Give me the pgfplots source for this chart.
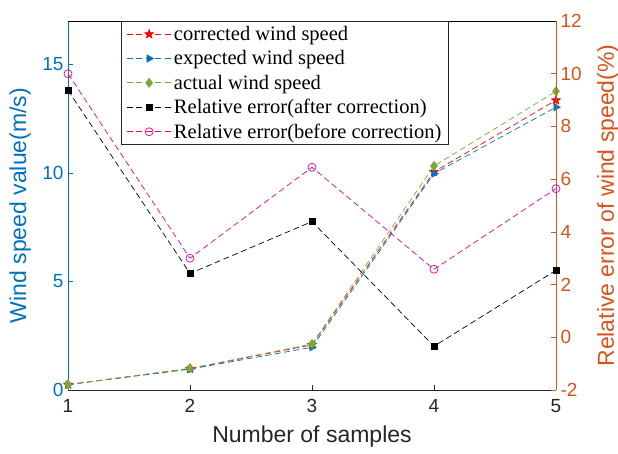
\documentclass[border=0pt]{standalone}
\usepackage{fontspec}
\setmainfont{Liberation Sans}
\newfontfamily\timesfont{Liberation Serif}
\usepackage{pgfplots}
\pgfplotsset{compat=1.18}
\definecolor{mblue}{rgb}{0,0.447,0.741}
\definecolor{morange}{rgb}{0.851,0.325,0.098}
\definecolor{mgreen}{rgb}{0.466,0.674,0.188}
\definecolor{mgray}{rgb}{0.15,0.15,0.15}
\pgfdeclareplotmark{fstar}{%
  \pgfpathmoveto{\pgfpointpolar{90}{\pgfplotmarksize}}%
  \pgfpathlineto{\pgfpointpolar{126}{0.42\pgfplotmarksize}}%
  \pgfpathlineto{\pgfpointpolar{162}{\pgfplotmarksize}}%
  \pgfpathlineto{\pgfpointpolar{198}{0.42\pgfplotmarksize}}%
  \pgfpathlineto{\pgfpointpolar{234}{\pgfplotmarksize}}%
  \pgfpathlineto{\pgfpointpolar{270}{0.42\pgfplotmarksize}}%
  \pgfpathlineto{\pgfpointpolar{306}{\pgfplotmarksize}}%
  \pgfpathlineto{\pgfpointpolar{342}{0.42\pgfplotmarksize}}%
  \pgfpathlineto{\pgfpointpolar{18}{\pgfplotmarksize}}%
  \pgfpathlineto{\pgfpointpolar{54}{0.42\pgfplotmarksize}}%
  \pgfpathclose
  \pgfusepathqfillstroke}
\begin{document}
\begin{tikzpicture}
\pgfplotsset{
  common/.style={width=488pt, height=369pt, scale only axis,
    xmin=1, xmax=5, clip=false, tick align=inside, major tick length=5pt,
    /pgf/number format/assume math mode=true,
    tick label style={font=\fontsize{19}{19}\selectfont},
    label style={font=\fontsize{23}{23}\selectfont}},
  dsh/.style={dash pattern=on 6pt off 3.5pt, line width=0.7pt}
}
\begin{axis}[common, name=ax,
  axis x line*=bottom, axis y line*=left,
  ymin=0, ymax=17, ytick={0,5,10,15}, xtick={1,2,3,4,5},
  x axis line style={mgray, line width=0.7pt}, xtick style={mgray, line width=0.7pt},
  xticklabel style={text=mgray, yshift=-6pt},
  y axis line style={mblue, line width=0.7pt}, ytick style={mblue, line width=0.7pt},
  yticklabel style={text=mblue, xshift=-1pt},
  xlabel={Number of samples}, xlabel style={text=mgray, at={(axis description cs:0.5,-0.127)}, anchor=center},
  ylabel={Wind speed value(m/s)}, ylabel style={text=mblue, at={(axis description cs:-0.098,0.5)}, anchor=center},
]
\addplot[red, dsh, mark=fstar, mark size=4.5pt, mark options={solid, fill=red}] coordinates {(1,0.25) (2,0.98) (3,2.08) (4,10.05) (5,13.35)};
\addplot[mblue, dsh, mark=triangle*, mark size=4.2pt, mark options={solid, rotate=-90, fill=mblue}] coordinates {(1,0.25) (2,0.96) (3,1.97) (4,9.97) (5,13.03)};
\addplot[mgreen, dsh, mark=diamond*, mark size=4.5pt, mark options={solid, fill=mgreen}] coordinates {(1,0.25) (2,1.0) (3,2.12) (4,10.32) (5,13.76)};
\end{axis}
\begin{axis}[common,
  axis x line=none, axis y line*=right,
  ymin=-2, ymax=12, ytick={-2,0,...,12},
  y axis line style={morange, line width=0.7pt}, ytick style={morange, line width=0.7pt},
  yticklabel style={text=morange, xshift=1pt},
  ylabel={Relative error of wind speed(\%)}, ylabel style={text=morange, at={(axis description cs:1.1066,0.5)}, anchor=center},
  legend style={at={(axis description cs:0.1086,1)}, anchor=north west, draw=mgray, line width=0.6pt,
    font=\timesfont\fontsize{20.5}{24}\selectfont, row sep=4.6pt, inner xsep=5pt, inner ysep=3pt,
    nodes={inner sep=2pt}},
  legend cell align=left,
  legend image code/.code={\draw[mark repeat=2, mark phase=2, #1] plot coordinates {(0pt,0pt) (22.5pt,0pt) (45pt,0pt)};},
]
\draw[black, line width=0.7pt] (rel axis cs:0,1) -- (rel axis cs:1,1);
\addlegendimage{red, dsh, mark=fstar, mark size=4.5pt, mark options={solid, fill=red}}
\addlegendentry{corrected wind speed}
\addlegendimage{mblue, dsh, mark=triangle*, mark size=4.2pt, mark options={solid, rotate=-90, fill=mblue}}
\addlegendentry{expected wind speed}
\addlegendimage{mgreen, dsh, mark=diamond*, mark size=4.5pt, mark options={solid, fill=mgreen}}
\addlegendentry{actual wind speed}
\addplot[black, dsh, mark=square*, mark size=3pt, mark options={solid, fill=black}] coordinates {(1,9.37) (2,2.42) (3,4.39) (4,-0.34) (5,2.54)};
\addlegendentry{Relative error(after correction)}
\addplot[magenta, dsh, mark=o, mark size=4pt, mark options={solid}] coordinates {(1,10.0) (2,3.0) (3,6.45) (4,2.58) (5,5.64)};
\addlegendentry{Relative error(before correction)}
\end{axis}
\pgfresetboundingbox
\path ([xshift=-68pt,yshift=-63pt]ax.south west) rectangle ([xshift=62pt,yshift=21pt]ax.north east);
\end{tikzpicture}
\end{document}
